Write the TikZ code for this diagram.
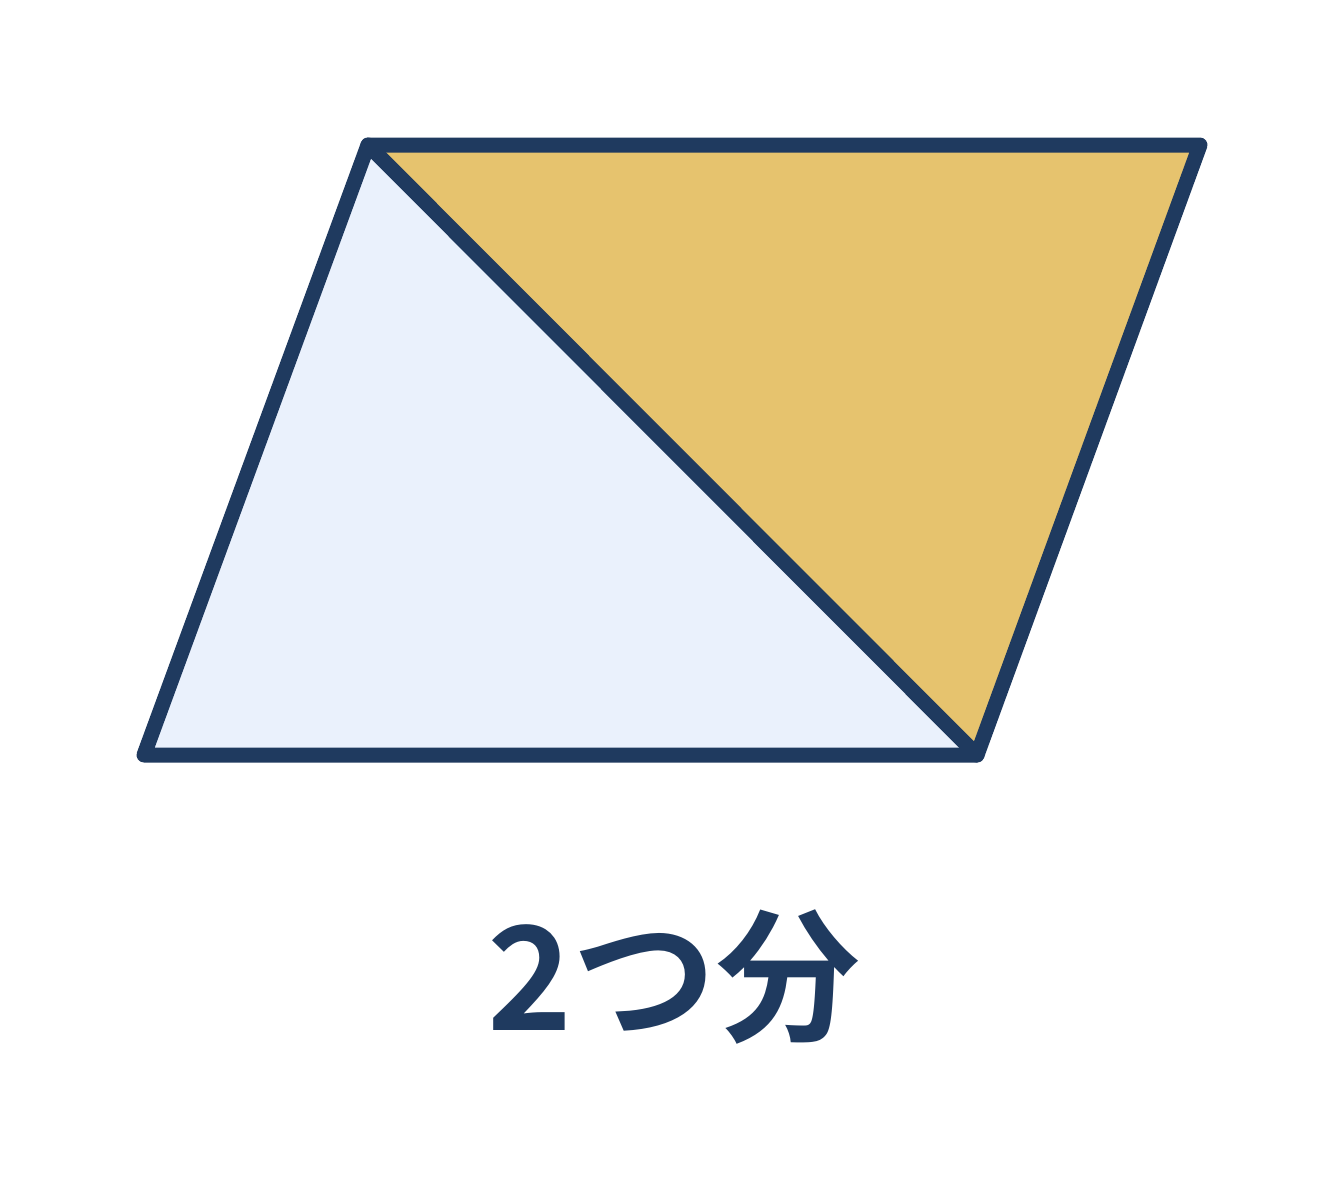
\documentclass[tikz,border=0pt]{standalone}
\usepackage{fontspec}
\newfontfamily\cjk{Noto Sans CJK JP}[BoldFont={Noto Sans CJK JP Bold}]
\definecolor{navy}{HTML}{1F3A5F}
\definecolor{gold}{HTML}{E6C36E}
\definecolor{pale}{HTML}{EAF1FC}
\begin{document}
\begin{tikzpicture}[x=1pt,y=-1pt,
  edge/.style={draw=navy,line width=15pt,line join=round,line cap=round}]
\useasboundingbox (0,0) rectangle (1344,1195);
\fill[white] (0,0) rectangle (1344,1195);
\coordinate (TL) at (368,145);
\coordinate (TR) at (1200,145);
\coordinate (BR) at (977,755);
\coordinate (BL) at (144,755);
\fill[pale] (TL) -- (BR) -- (BL) -- cycle;
\fill[gold] (TL) -- (TR) -- (BR) -- cycle;
\draw[edge] (TL) -- (TR) -- (BR) -- (BL) -- cycle;
\draw[edge] (TL) -- (BR);
\node[text=navy,font=\cjk\bfseries\fontsize{144}{150}\selectfont] (label) at (674,977) {2つ分};
\end{tikzpicture}
\end{document}
